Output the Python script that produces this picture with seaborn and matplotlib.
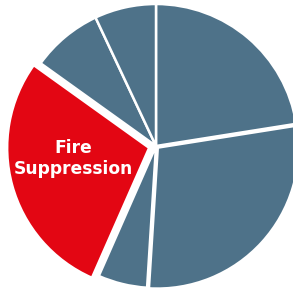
import matplotlib
matplotlib.use("Agg")
import matplotlib.pyplot as plt
import seaborn as sns

sns.set_theme(style="white")
plt.rcParams['font.family'] = ['DejaVu Sans']

# slice shares, clockwise from 12 o'clock
categories = ["Segment A", "Segment B", "Segment C", "Fire Suppression", "Segment E", "Segment F"]
shares = [22.5, 28.5, 5.6, 28.3, 8.1, 7.0]
highlight = "Fire Suppression"

blue = "#4e7289"
red = "#e30613"
colors = [red if c == highlight else blue for c in categories]
explode = [0.05 if c == highlight else (0.012 if c == "Segment B" else 0) for c in categories]

fig = plt.figure(figsize=(2.93, 2.94), dpi=100)
ax = fig.add_axes([0, 0, 1, 1])

wedges, _ = ax.pie(shares, colors=colors, explode=explode, startangle=90,
                   counterclock=False, radius=1,
                   wedgeprops=dict(edgecolor="white", linewidth=1.8))
# the boundary between the two big slices is drawn heavier
wedges[1].set_linewidth(2.6)
wedges[1].set_zorder(3)

ax.text(-0.585, -0.09, "Fire\nSuppression", color="white", fontsize=12.3,
        fontweight="bold", ha="center", va="center", linespacing=1.22)

ax.set_xlim(-1.0986, 0.9648)
ax.set_ylim(-1.0423, 1.0282)
ax.set_aspect("auto")
ax.axis("off")

fig.savefig("out.png", dpi=100)
